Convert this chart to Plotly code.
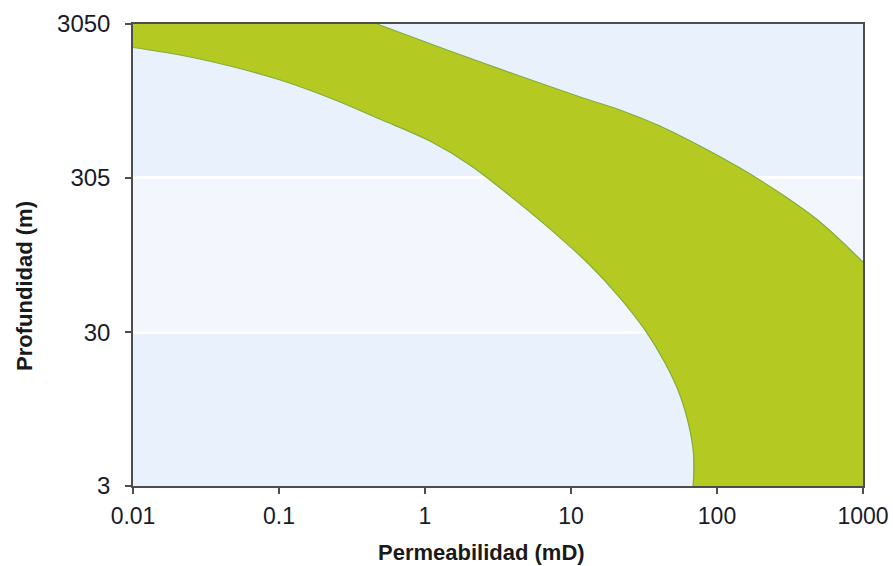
import plotly.graph_objects as go

# Axis ticks
x_ticks = [0.01, 0.1, 1, 10, 100, 1000]
x_ticklabels = ["0.01", "0.1", "1", "10", "100", "1000"]
y_ticks = [3, 30, 305, 3050]
y_ticklabels = ["3", "30", "305", "3050"]

# Left (low-permeability) boundary of the band, top to bottom
left_perm = [0.01, 0.021, 0.046, 0.102, 0.224, 0.49, 1.08, 2.03, 3.82, 7.2, 13.5, 21.7, 32.1, 44.0, 55.8, 65.3, 69.6, 68.5]
left_depth = [2145, 1916, 1625, 1318, 1006, 734, 528, 369, 232, 141, 82, 50.2, 31.1, 19.0, 11.7, 6.9, 4.4, 3]

# Right (high-permeability) boundary of the band, top to bottom
right_perm = [0.469, 1.48, 4.27, 12.1, 21.7, 40.7, 76.5, 144, 270, 508, 1000]
right_depth = [3050, 2034, 1420, 1006, 841, 661, 490, 352, 242, 157, 86]

x_min, x_max = 0.01, 1000
y_min, y_max = 3, 3050

green = "#b4c922"
edge = "#84ad3a"

fig = go.Figure()

# corner blocks of the band (areas bounded by the axes)
fig.add_trace(go.Scatter(
    x=[x_min, right_perm[0], right_perm[0], x_min, x_min],
    y=[left_depth[0], left_depth[0], y_max, y_max, left_depth[0]],
    mode="lines", fill="toself", fillcolor=green, line=dict(width=0),
    hoverinfo="skip", showlegend=False,
))
fig.add_trace(go.Scatter(
    x=[left_perm[-1], x_max, x_max, left_perm[-1], left_perm[-1]],
    y=[y_min, y_min, right_depth[-1], right_depth[-1], y_min],
    mode="lines", fill="toself", fillcolor=green, line=dict(width=0),
    hoverinfo="skip", showlegend=False,
))

# band between the two boundaries
fig.add_trace(go.Scatter(
    x=left_perm, y=left_depth, mode="lines",
    line=dict(color=edge, width=1.2, shape="spline", smoothing=1.0),
    hoverinfo="skip", showlegend=False,
))
fig.add_trace(go.Scatter(
    x=right_perm, y=right_depth, mode="lines", fill="tonextx", fillcolor=green,
    line=dict(color=edge, width=1.2, shape="spline", smoothing=1.0),
    hoverinfo="skip", showlegend=False,
))

# middle lighter band
fig.add_shape(type="rect", xref="paper", yref="y", x0=0, x1=1, y0=30, y1=305,
              fillcolor="#f3f7fd", line_width=0, layer="below")

axis_col = "#4d4d4d"
fig.update_xaxes(
    type="log", range=[-2, 3], tickvals=x_ticks, ticktext=x_ticklabels,
    showline=True, linecolor=axis_col, linewidth=1.5, mirror=True,
    ticks="outside", ticklen=6, tickcolor=axis_col, tickwidth=1.5,
    ticklabelstandoff=3, automargin=False,
    showgrid=False, zeroline=False,
    tickfont=dict(family="Liberation Sans, Arial", size=23, color="#1a1a2a"),
)
fig.update_yaxes(
    type="log", range=[0.47712, 3.48430], tickvals=y_ticks, ticktext=y_ticklabels,
    showline=True, linecolor=axis_col, linewidth=1.5, mirror=True,
    ticks="outside", ticklen=6, tickcolor=axis_col, tickwidth=1.5,
    ticklabelstandoff=10, automargin=False,
    showgrid=True, gridcolor="#ffffff", gridwidth=3, zeroline=False,
    tickfont=dict(family="Liberation Sans, Arial", size=24, color="#1a1a2a"),
)

fig.add_annotation(text="<b>Permeabilidad (mD)</b>", xref="paper", yref="paper",
                   x=0.478, y=-0.143, xanchor="center", yanchor="middle", showarrow=False,
                   font=dict(family="Liberation Sans, Arial", size=22, color="#1a1a1a"))
fig.add_annotation(text="<b>Profundidad (m)</b>", xref="paper", yref="paper",
                   x=-0.148, y=0.433, xanchor="center", yanchor="middle", showarrow=False,
                   textangle=-90,
                   font=dict(family="Liberation Sans, Arial", size=22, color="#1a1a1a"))

fig.update_layout(
    width=893, height=566,
    margin=dict(l=133, r=30, t=24, b=80),
    paper_bgcolor="#ffffff", plot_bgcolor="#e9f1fc",
    showlegend=False,
)

fig.write_html("out.html", config={"displayModeBar": False},
               post_script="document.body.style.margin='0px';document.body.style.overflow='hidden';")
